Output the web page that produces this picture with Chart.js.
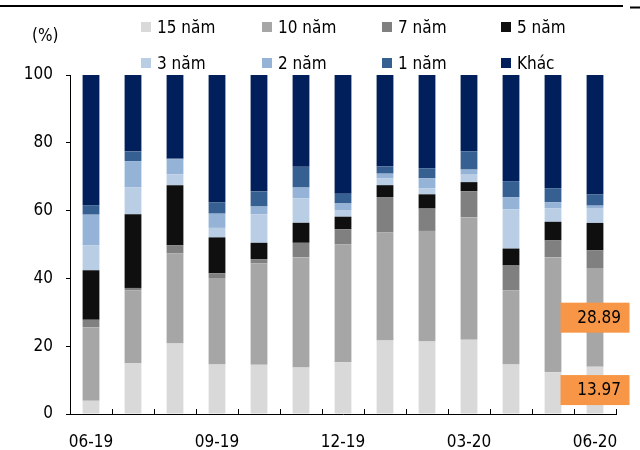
<!DOCTYPE html>
<html>
<head>
<meta charset="utf-8">
<script src="https://cdn.jsdelivr.net/npm/chart.js@4/dist/chart.umd.min.js"></script>
<style>
  html, body { margin: 0; padding: 0; background: #ffffff; }
  #wrap { width: 640px; height: 450px; }
</style>
</head>
<body>
<div id="wrap"><canvas id="c" width="640" height="450"></canvas></div>
<script>
// Month labels (MM-YY)
const months = ['06-19','07-19','08-19','09-19','10-19','11-19','12-19','01-20','02-20','03-20','04-20','05-20','06-20'];

// Share of each tenor (%)
const tenor15 = [3.9, 15.0, 20.8, 14.6, 14.5, 13.7, 15.3, 21.7, 21.4, 21.9, 14.6, 12.3, 13.97];
const tenor10 = [21.7, 21.5, 26.6, 25.5, 29.9, 32.5, 34.7, 31.9, 32.6, 36.1, 21.9, 33.9, 28.89];
const tenor7  = [2.2, 0.7, 2.4, 1.4, 1.3, 4.3, 4.5, 10.4, 6.6, 7.7, 7.3, 5.0, 5.4];
const tenor5  = [14.6, 21.7, 17.7, 10.6, 4.8, 5.9, 3.7, 3.5, 4.2, 2.7, 5.0, 5.5, 8.1];
const tenor3  = [7.4, 8.0, 3.2, 2.8, 8.4, 7.2, 1.8, 2.0, 1.8, 2.2, 11.6, 4.0, 4.4];
const tenor2  = [9.0, 7.7, 4.4, 4.2, 2.3, 3.2, 2.1, 1.4, 2.9, 1.5, 3.5, 1.8, 0.7];
const tenor1  = [2.8, 2.8, 0.3, 3.3, 4.4, 6.1, 2.9, 2.1, 3.0, 5.4, 4.8, 4.1, 3.3];
const other   = [38.4, 22.6, 24.6, 37.6, 34.4, 27.1, 35.0, 27.0, 27.5, 22.5, 31.3, 33.4, 35.24];

// Y axis ticks
const yTicks = [0, 20, 40, 60, 80, 100];

// Series shown with a value box on the latest month
const boxedSeries = ['15 năm', '10 năm'];

const FONT = "'DejaVu Sans Condensed', 'DejaVu Sans', sans-serif";
const FONT_SIZE = 17;

const series = [
  { label: '15 năm', data: tenor15, color: '#D9D9D9' },
  { label: '10 năm', data: tenor10, color: '#A6A6A6' },
  { label: '7 năm',  data: tenor7,  color: '#808080' },
  { label: '5 năm',  data: tenor5,  color: '#0F0F0F' },
  { label: '3 năm',  data: tenor3,  color: '#B9CDE5' },
  { label: '2 năm',  data: tenor2,  color: '#95B3D7' },
  { label: '1 năm',  data: tenor1,  color: '#376092' },
  { label: 'Khác',   data: other,   color: '#001F5B' }
];

// Header rule, unit caption, grid legend, inward x ticks and value boxes
const decor = {
  id: 'decor',
  afterDraw(chart) {
    const ctx = chart.ctx;
    ctx.save();
    ctx.fillStyle = '#000000';
    ctx.fillRect(0, 5, 623, 2);
    ctx.fillRect(630, 6.5, 10, 2);

    ctx.font = FONT_SIZE + 'px ' + FONT;
    ctx.textBaseline = 'alphabetic';
    ctx.textAlign = 'left';
    ctx.fillText('(%)', 32, 41);

    // legend in a 4 x 2 grid
    const colX = [141, 262, 382, 501];
    const rowY = [22, 58];
    chart.data.datasets.forEach((ds, i) => {
      const x = colX[i % 4];
      const y = rowY[Math.floor(i / 4)];
      ctx.fillStyle = ds.backgroundColor;
      ctx.fillRect(x, y, 10, 10);
      ctx.fillStyle = '#000000';
      ctx.fillText(ds.label, x + 16, y + 11);
    });

    // x tick marks pointing up from the axis at category boundaries
    const xs = chart.scales.x;
    const step = xs.getPixelForValue(1) - xs.getPixelForValue(0);
    const bottom = chart.chartArea.bottom;
    ctx.strokeStyle = '#000000';
    ctx.lineWidth = 1;
    ctx.beginPath();
    for (let i = 0; i <= months.length; i++) {
      const x = Math.round(xs.getPixelForValue(0) - step / 2 + i * step) + 0.5;
      ctx.moveTo(x, bottom);
      ctx.lineTo(x, bottom - 5);
    }
    ctx.stroke();

    // value boxes on the latest month
    const last = months.length - 1;
    chart.data.datasets.forEach((ds, i) => {
      if (!boxedSeries.includes(ds.label)) return;
      const el = chart.getDatasetMeta(i).data[last];
      const cy = (el.y + el.base) / 2;
      const w = 69, h = 30;
      ctx.fillStyle = '#F79646';
      ctx.fillRect(el.x - w / 2, cy - h / 2, w, h);
      ctx.fillStyle = '#000000';
      ctx.textAlign = 'right';
      ctx.textBaseline = 'middle';
      ctx.fillText(ds.data[last].toFixed(2), el.x + 26, cy + 1);
    });
    ctx.restore();
  }
};

new Chart(document.getElementById('c'), {
  type: 'bar',
  data: {
    labels: months,
    datasets: series.map(s => ({
      label: s.label,
      data: s.data,
      backgroundColor: s.color,
      borderWidth: 0,
      barPercentage: 0.4,
      categoryPercentage: 1.0
    }))
  },
  options: {
    responsive: false,
    animation: false,
    layout: { padding: { left: 0, right: 24, top: 75, bottom: 0 } },
    plugins: {
      legend: { display: false },
      tooltip: { enabled: false }
    },
    scales: {
      x: {
        stacked: true,
        afterFit(scale) { scale.height = 36; },
        grid: { display: false, drawTicks: false },
        border: { display: true, color: '#000000', width: 1 },
        ticks: {
          autoSkip: false,
          maxRotation: 0,
          padding: 18,
          color: '#000000',
          font: { family: FONT, size: FONT_SIZE },
          callback(value, index) { return index % 3 === 0 ? months[index] : ''; }
        }
      },
      y: {
        stacked: true,
        min: 0,
        max: 100,
        afterFit(scale) { scale.width = 70; },
        afterBuildTicks(scale) { scale.ticks = yTicks.map(v => ({ value: v })); },
        grid: { drawOnChartArea: false, drawTicks: true, tickLength: 4, color: '#000000' },
        border: { display: true, color: '#000000', width: 1 },
        ticks: {
          padding: 13,
          color: '#000000',
          font: { family: FONT, size: FONT_SIZE }
        }
      }
    }
  },
  plugins: [decor]
});
</script>
</body>
</html>
